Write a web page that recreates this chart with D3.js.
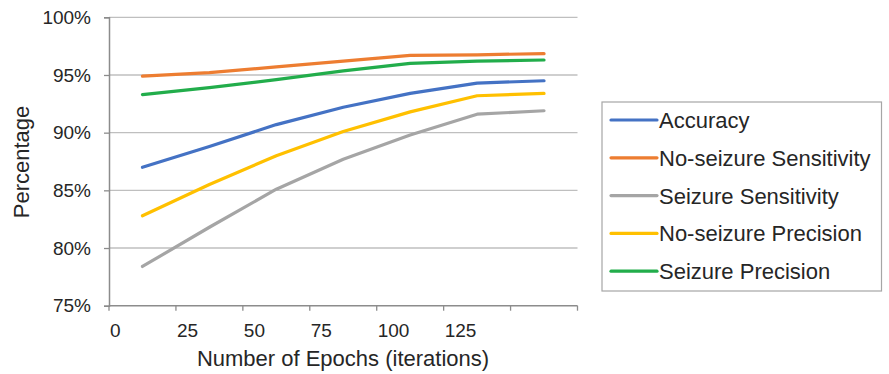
<!DOCTYPE html>
<html>
<head>
<meta charset="utf-8">
<script src="https://cdn.jsdelivr.net/npm/d3@7"></script>
<style>
  html, body { margin: 0; padding: 0; background: #fff; }
  svg { display: block; font-family: "Liberation Sans", Arial, sans-serif; }
</style>
</head>
<body>
<svg id="chart" width="889" height="374"></svg>
<script>
// Category labels along the x axis (one per training stage)
const epochLabels = ["0", "25", "50", "75", "100", "125", ""];

// Metric values (%) for each stage
const accuracy            = [87.0, 88.8, 90.7, 92.2, 93.4, 94.3, 94.5];
const noSeizureSens       = [94.9, 95.2, 95.7, 96.2, 96.7, 96.75, 96.85];
const seizureSens         = [78.4, 81.8, 85.1, 87.7, 89.8, 91.6, 91.9];
const noSeizurePrecision  = [82.8, 85.5, 88.0, 90.1, 91.8, 93.2, 93.4];
const seizurePrecision    = [93.3, 93.9, 94.6, 95.35, 96.0, 96.2, 96.3];

const seriesNames  = ["Accuracy", "No-seizure Sensitivity", "Seizure Sensitivity", "No-seizure Precision", "Seizure Precision"];
const seriesColors = ["#4472C4", "#ED7D31", "#A5A5A5", "#FFC000", "#22AD4B"];
const yTicks = [75, 80, 85, 90, 95, 100];

const seriesValues = [accuracy, noSeizureSens, seizureSens, noSeizurePrecision, seizurePrecision];
const series = seriesNames.map((name, i) => ({ name, color: seriesColors[i], values: seriesValues[i] }));

const svg = d3.select("#chart");
const plot = { left: 109, right: 577.5, top: 17.3, bottom: 305.7 };

const x = d3.scaleBand().domain(d3.range(epochLabels.length)).range([plot.left, plot.right]).padding(0);
const y = d3.scaleLinear().domain([75, 100]).range([plot.bottom, plot.top]);

const textColor = "#262626";

// Horizontal gridlines
svg.append("g").selectAll("line").data(yTicks.filter(t => t > 75)).join("line")
  .attr("x1", plot.left).attr("x2", plot.right)
  .attr("y1", d => y(d)).attr("y2", d => y(d))
  .attr("stroke", "#BFBFBF").attr("stroke-width", 1.3);

// Y axis
const yAxis = svg.append("g").attr("transform", `translate(${plot.left},0)`)
  .call(d3.axisLeft(y).tickValues(yTicks).tickFormat(d => d + "%").tickSize(5).tickPadding(13));
yAxis.select(".domain").attr("stroke", "#8C8C8C").attr("stroke-width", 1.5);
yAxis.selectAll(".tick line").attr("stroke", "#8C8C8C").attr("stroke-width", 1.3);
yAxis.selectAll(".tick text").attr("font-size", 19).attr("fill", textColor)
  .attr("font-family", "Liberation Sans, Arial, sans-serif");

// X axis: tick marks on category boundaries, labels just right of each boundary
const boundaries = d3.range(epochLabels.length + 1).map(i => i < epochLabels.length ? x(i) : plot.right);
const xg = svg.append("g");
xg.append("line").attr("x1", plot.left).attr("x2", plot.right)
  .attr("y1", plot.bottom).attr("y2", plot.bottom)
  .attr("stroke", "#8C8C8C").attr("stroke-width", 1.5);
xg.selectAll("line.tick").data(boundaries).join("line").attr("class", "tick")
  .attr("x1", d => d).attr("x2", d => d)
  .attr("y1", plot.bottom).attr("y2", plot.bottom + 5)
  .attr("stroke", "#8C8C8C").attr("stroke-width", 1.3);
xg.selectAll("text").data(epochLabels).join("text")
  .attr("x", (d, i) => x(i) + 1).attr("y", 336.5)
  .attr("font-size", 19).attr("fill", textColor)
  .text(d => d);

// Series lines
const line = d3.line()
  .x((d, i) => x(i) + x.bandwidth() / 2)
  .y(d => y(d));
svg.append("g").selectAll("path").data(series).join("path")
  .attr("d", d => line(d.values))
  .attr("fill", "none")
  .attr("stroke", d => d.color)
  .attr("stroke-width", 3.2)
  .attr("stroke-linecap", "round")
  .attr("stroke-linejoin", "round");

// Axis titles
svg.append("text")
  .attr("transform", "translate(29,162) rotate(-90)")
  .attr("text-anchor", "middle").attr("font-size", 22).attr("fill", textColor)
  .text("Percentage");
svg.append("text")
  .attr("x", 343).attr("y", 366)
  .attr("text-anchor", "middle").attr("font-size", 22).attr("fill", textColor)
  .text("Number of Epochs (iterations)");

// Legend
const legend = svg.append("g");
legend.append("rect")
  .attr("x", 602).attr("y", 102).attr("width", 279.5).attr("height", 189)
  .attr("fill", "#fff").attr("stroke", "#A6A6A6").attr("stroke-width", 1.2);
const rows = legend.selectAll("g.row").data(series).join("g").attr("class", "row")
  .attr("transform", (d, i) => `translate(0,${120 + i * 37.8})`);
rows.append("line")
  .attr("x1", 611).attr("x2", 657).attr("y1", 0).attr("y2", 0)
  .attr("stroke", d => d.color).attr("stroke-width", 3.2).attr("stroke-linecap", "round");
rows.append("text")
  .attr("x", 659).attr("y", 8)
  .attr("font-size", 22).attr("fill", textColor)
  .text(d => d.name);
</script>
</body>
</html>
